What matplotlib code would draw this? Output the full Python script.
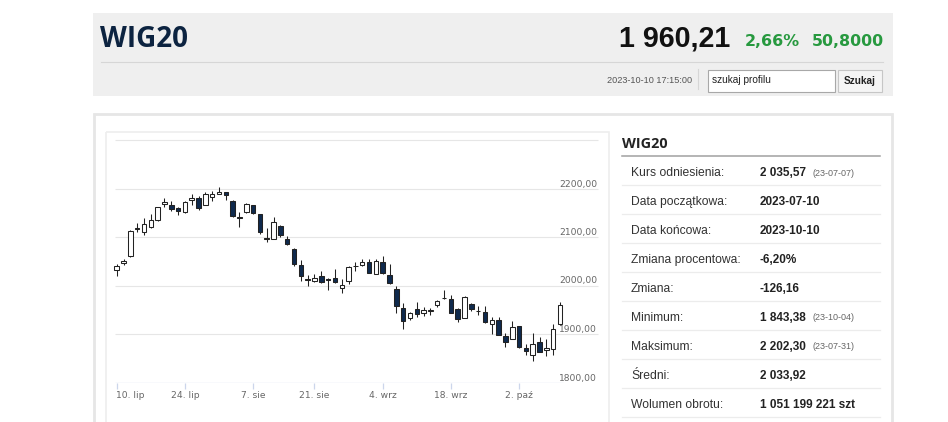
import matplotlib
matplotlib.use("Agg")
import matplotlib.pyplot as plt
import matplotlib.transforms as mtransforms
from matplotlib.patches import Rectangle
import pandas as pd

# ---------------- data ----------------
trading_days = [d for d in pd.bdate_range("2023-07-10", "2023-10-10") if d.strftime("%Y-%m-%d") != "2023-08-15"]

opens = [2032, 2046, 2060, 2119, 2110, 2120, 2135, 2168, 2165, 2159,
         2151, 2176, 2181, 2166, 2183, 2189, 2192, 2175, 2141, 2151,
         2166, 2147, 2097, 2096, 2123, 2095, 2075, 2042, 2013, 2010,
         2020, 2013, 2016, 1995, 2009, 2040, 2042, 2049, 2024, 2049,
         2022, 1993, 1953, 1934, 1951, 1944, 1948, 1960, 1975, 1973,
         1952, 1933, 1962, 1947, 1946, 1920, 1928, 1896, 1890, 1916,
         1871, 1856, 1884, 1866, 1869, 1920]
highs = [2044, 2055, 2114, 2128, 2140, 2147, 2162, 2181, 2174, 2161,
         2174, 2189, 2185, 2193, 2195, 2202.30, 2193, 2177, 2151, 2171,
         2167, 2148, 2118, 2142, 2125, 2103, 2077, 2053, 2022, 2024,
         2030, 2015, 2035, 2013, 2040, 2049, 2054, 2054, 2055, 2061,
         2044, 2000, 1963, 1945, 1965, 1955, 1954, 1970, 1990, 1981,
         1953, 1978, 1963, 1957, 1957, 1935, 1935, 1903, 1926, 1917,
         1880, 1902, 1893, 1890, 1921, 1966]
lows = [2020, 2043, 2058, 2111, 2105, 2118, 2132, 2162, 2154, 2145,
        2149, 2167, 2156, 2165, 2174, 2188, 2176, 2141, 2120, 2150,
        2147, 2106, 2090, 2095, 2101, 2084, 2040, 2010, 1998, 2008,
        2006, 1991, 2006, 1985, 2003, 2030, 2040, 2025, 2023, 2024,
        2004, 1943, 1910, 1929, 1936, 1938, 1939, 1955, 1973, 1943,
        1924, 1932, 1947, 1939, 1923, 1900, 1897, 1874, 1889, 1872,
        1856, 1843.38, 1862, 1854, 1856, 1918]
closes = [2040, 2051, 2112, 2116, 2126, 2136, 2161, 2172, 2158, 2154,
          2172, 2181, 2160, 2189, 2188, 2193, 2187, 2143, 2140, 2168,
          2149, 2111, 2095, 2130, 2104, 2086, 2044, 2020, 2012, 2015,
          2008, 2012, 2008, 2001, 2039, 2041, 2048, 2026, 2051, 2025,
          2005, 1958, 1926, 1943, 1941, 1950, 1948.5, 1968, 1974, 1944,
          1930, 1976, 1952, 1947, 1925, 1928, 1898, 1883, 1915, 1873,
          1864, 1880, 1863, 1871, 1909.41, 1960.21]

tick_dates = ["2023-07-10", "2023-07-24", "2023-08-07", "2023-08-21",
              "2023-09-04", "2023-09-18", "2023-10-02"]
tick_labels = ["10. lip", "24. lip", "7. sie", "21. sie", "4. wrz", "18. wrz", "2. paź"]

y_ticks = [1800, 1900, 2000, 2100, 2200, 2300]
y_tick_labels = ["1800,00", "1900,00", "2000,00", "2100,00", "2200,00", ""]

title = "WIG20"
last_value = "1 960,21"
change_pct = "2,66%"
change_abs = "50,8000"
timestamp = "2023-10-10 17:15:00"

row_labels = ["Kurs odniesienia:", "Data początkowa:", "Data końcowa:",
              "Zmiana procentowa:", "Zmiana:", "Minimum:", "Maksimum:",
              "Średni:", "Wolumen obrotu:"]
row_values = ["2 035,57", "2023-07-10", "2023-10-10", "-6,20%", "-126,16",
              "1 843,38", "2 202,30", "2 033,92", "1 051 199 221 szt"]
row_notes = ["(23-07-07)", "", "", "", "", "(23-10-04)", "(23-07-31)", "", ""]

# ---------------- figure ----------------
W, H = 948, 422
fig = plt.figure(figsize=(W / 100, H / 100), dpi=100)
fig.patch.set_facecolor("white")

bg = fig.add_axes([0, 0, 1, 1], zorder=0)
bg.set_xlim(0, W)
bg.set_ylim(H, 0)
bg.axis("off")

LS = "Liberation Sans"
DJ = "DejaVu Sans"
OS = "Open Sans"

# header box
bg.add_patch(Rectangle((93, 13), 800, 83, fc="#efefef", ec="none"))
bg.plot([101, 883], [61.7, 61.7], color="#d6d6d6", lw=0.8)
bg.plot([698, 698], [69, 89], color="#d6d6d6", lw=0.8)
bg.add_patch(Rectangle((708, 70), 127, 21.5, fc="white", ec="#a8a8a8", lw=0.8))
bg.add_patch(Rectangle((838, 70), 44, 21.5, fc="#f5f5f5", ec="#c6c6c6", lw=0.8))

bg.text(100, 46.7, title, family=OS, weight="bold", fontsize=20, color="#0c2340",
        ha="left", va="baseline")
bg.text(730, 46.7, last_value, family=LS, weight="bold", fontsize=20.6, color="#111111",
        ha="right", va="baseline")
bg.text(745, 46.2, change_pct, family=DJ, weight="bold", fontsize=11.4, color="#27993f",
        ha="left", va="baseline")
bg.text(884, 46.2, change_abs, family=DJ, weight="bold", fontsize=11.4, color="#27993f",
        ha="right", va="baseline")
bg.text(607, 83.3, timestamp, family=LS, fontsize=6.6, color="#555555", ha="left", va="baseline")
bg.text(712, 82.7, "szukaj profilu", family=LS, fontsize=7.3, color="#222222",
        ha="left", va="baseline")
bg.text(860, 84, "Szukaj", family=LS, weight="bold", fontsize=7.2, color="#222222",
        ha="center", va="baseline")

# main panel
bg.add_patch(Rectangle((94, 114), 798, 330, fc="white", ec="#e6e6e6", lw=2))
bg.add_patch(Rectangle((106, 132), 503, 320, fc="none", ec="#eeeeee", lw=1.2))

# table
bg.text(622, 147.7, title, family=OS, weight="bold", fontsize=10.4, color="#222222",
        ha="left", va="baseline")
bg.plot([622, 880], [155.7, 155.7], color="#a0a0a0", lw=1.1)
for i, (lab, val, note) in enumerate(zip(row_labels, row_values, row_notes)):
    yc = 171.7 + 28.95 * i
    bg.text(631, yc + 4.3, lab, family=LS, fontsize=8.7, color="#333333",
            ha="left", va="baseline")
    bg.text(760, yc + 4.3, val, family=LS, weight="bold", fontsize=8.5, color="#222222",
            ha="left", va="baseline")
    if note:
        bg.text(813, yc + 4.0, note, family=LS, fontsize=6.5, color="#666666",
                ha="left", va="baseline")
    bg.plot([622, 880], [yc + 13.5, yc + 13.5], color="#ececec", lw=0.9)

# ---------------- chart ----------------
L, R, T, B = 110, 600, 132, 382.5
x0, dx = 116.7, 6.82
px_per_unit = 0.485
ax = fig.add_axes([L / W, (H - B) / H, (R - L) / W, (B - T) / H], zorder=1)
ax.patch.set_alpha(0)
ax.set_xlim((L - x0) / dx, (R - x0) / dx)
ax.set_ylim(y_ticks[0], y_ticks[0] + (B - T) / px_per_unit)
for s in ax.spines.values():
    s.set_visible(False)
ax.set_xticks([])
ax.set_yticks([])

def fx(px):
    return (px - L) / (R - L)

ytr = ax.get_yaxis_transform()
xtr = ax.get_xaxis_transform()

# gridlines
ax.hlines(y_ticks[1:], fx(115), fx(598), transform=ytr, color="#e6e6e6", lw=0.8, zorder=1)
ax.hlines([y_ticks[0]], fx(115), fx(563), transform=ytr, color="#ccd6eb", lw=0.9, zorder=1)

for v, lab in zip(y_ticks, y_tick_labels):
    if lab:
        ax.text(fx(597), v, lab, transform=ytr, ha="right", va="bottom",
                family=DJ, fontsize=6.6, color="#666666")

# x ticks
date_str = [d.strftime("%Y-%m-%d") for d in trading_days]
tick_pos = [date_str.index(d) for d in tick_dates]
ah = B - T
ax.vlines(tick_pos, -6 / ah, 0, transform=xtr, color="#ccd6eb", lw=0.9, clip_on=False)
for k, (p, lab) in enumerate(zip(tick_pos, tick_labels)):
    ax.text(p - (0.1 if k == 0 else 0), -(395 - B) / ah, lab, transform=xtr,
            ha="left" if k == 0 else "center", va="center",
            family=DJ, fontsize=6.6, color="#666666", clip_on=False)

# candles
idx = list(range(len(closes)))
ax.vlines(idx, lows, highs, color="#222222", lw=0.75, zorder=2)
bottoms = [min(o, c) for o, c in zip(opens, closes)]
heights = [max(abs(c - o), 0.6) for o, c in zip(opens, closes)]
fills = ["white" if c >= o else "#0f2a4d" for o, c in zip(opens, closes)]
ax.bar(idx, heights, bottom=bottoms, width=0.66, color=fills, edgecolor="#222222",
       linewidth=0.75, zorder=3)

fig.savefig("out.png", dpi=100)
